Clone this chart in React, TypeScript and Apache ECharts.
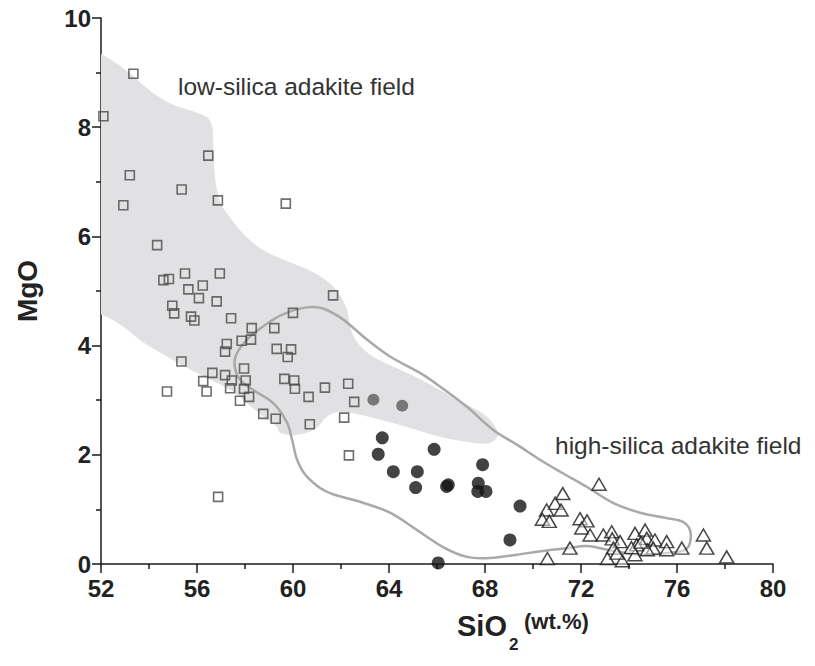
import React, { useEffect, useRef } from 'react';
import * as echarts from 'echarts';

// SiO2 (wt.%) vs MgO (wt.%)
const squares: number[][] = [
  [52.1, 8.2], [53.35, 8.98], [53.2, 7.12], [52.93, 6.57], [56.47, 7.48], [55.36, 6.86], [56.87, 6.66], [59.7, 6.6],
  [54.34, 5.84], [54.6, 5.2], [54.83, 5.22], [55.5, 5.32], [56.95, 5.32], [55.64, 5.03], [56.24, 5.1], [56.08, 4.87],
  [56.82, 4.81], [54.97, 4.73], [55.05, 4.59], [55.75, 4.53], [55.89, 4.46], [57.42, 4.5], [61.67, 4.92], [60.0, 4.6],
  [58.28, 4.32], [59.22, 4.32], [57.86, 4.09], [58.25, 4.11], [57.24, 4.03], [57.17, 3.89], [59.32, 3.94], [59.92, 3.93],
  [59.78, 3.79], [55.35, 3.71], [54.75, 3.16], [56.4, 3.16], [56.64, 3.5], [56.26, 3.35], [57.17, 3.46], [57.45, 3.36],
  [57.38, 3.22], [57.96, 3.58], [58.03, 3.36], [57.96, 3.21], [57.79, 2.99], [58.17, 3.06], [58.76, 2.75], [59.28, 2.66],
  [59.64, 3.39], [60.05, 3.36], [60.08, 3.21], [60.65, 3.06], [61.33, 3.23], [62.3, 3.3], [62.55, 2.97], [62.13, 2.68],
  [60.7, 2.56], [62.33, 1.99], [56.88, 1.23]
];

const grayCircles: number[][] = [[63.35, 3.01], [64.55, 2.9]];

const blackCircles: number[][] = [
  [63.72, 2.31], [63.55, 2.01], [65.88, 2.1], [64.18, 1.69], [65.18, 1.69], [67.9, 1.82], [65.11, 1.4], [66.4, 1.42],
  [66.47, 1.45], [67.72, 1.48], [67.7, 1.33], [68.04, 1.33], [69.46, 1.06], [69.04, 0.44], [66.05, 0.02]
];

const triangles: number[][] = [
  [72.75, 1.46], [71.24, 1.29], [70.92, 1.11], [70.57, 0.99], [71.17, 0.99], [70.39, 0.82], [70.68, 0.78], [71.96, 0.83],
  [72.25, 0.79], [72.03, 0.66], [72.38, 0.53], [71.54, 0.29], [70.6, 0.1], [72.93, 0.53], [73.28, 0.59], [73.3, 0.46],
  [73.63, 0.41], [73.35, 0.29], [73.1, 0.1], [73.72, 0.06], [73.5, 0.2], [74.25, 0.56], [74.67, 0.62], [74.32, 0.35],
  [74.25, 0.17], [74.74, 0.47], [75.08, 0.44], [75.01, 0.29], [74.76, 0.26], [74.1, 0.3], [74.5, 0.4], [75.57, 0.41],
  [75.57, 0.26], [76.2, 0.29], [77.1, 0.53], [77.24, 0.29], [78.07, 0.13]
];

// field outlines (SiO2, MgO)
const lowSilicaField: number[][] = [
  [52.0, 9.34], [53.13, 9.01], [54.13, 8.64], [54.96, 8.42], [55.92, 8.28], [56.42, 8.18], [56.63, 8.02], [56.67, 7.78],
  [56.71, 7.28], [56.83, 6.86], [57.0, 6.59], [57.29, 6.4], [57.88, 6.07], [58.71, 5.76], [59.79, 5.54], [60.63, 5.39],
  [61.33, 5.21], [61.88, 4.97], [62.25, 4.66], [62.38, 4.35], [62.67, 4.06], [63.33, 3.8], [64.46, 3.56], [65.58, 3.32],
  [66.83, 3.01], [68.08, 2.7], [68.54, 2.37], [68.21, 2.22], [67.5, 2.22], [66.13, 2.33], [64.75, 2.51], [63.33, 2.68],
  [61.96, 2.79], [61.42, 2.7], [61.0, 2.5], [60.29, 2.37], [59.46, 2.4], [59.33, 2.51], [58.75, 2.7], [58.08, 2.95],
  [57.38, 3.19], [56.54, 3.38], [55.71, 3.56], [54.75, 3.8], [53.75, 4.06], [52.92, 4.35], [52.0, 4.57],
  [51.6, 4.57], [51.6, 6.5], [51.6, 9.34]
];

const highSilicaField: number[][] = [
  [57.58, 3.6], [57.63, 3.83], [58.08, 4.11], [58.75, 4.35], [59.58, 4.57], [60.58, 4.7], [61.25, 4.68], [62.08, 4.48],
  [63.08, 4.11], [64.04, 3.8], [65.29, 3.5], [66.13, 3.25], [67.25, 2.88], [68.33, 2.46], [69.46, 2.15], [70.29, 1.91],
  [71.13, 1.69], [72.25, 1.41], [73.33, 1.12], [74.46, 0.94], [75.58, 0.84], [76.25, 0.77], [76.54, 0.62], [76.54, 0.39],
  [76.33, 0.26], [75.58, 0.2], [74.46, 0.17], [73.33, 0.24], [72.25, 0.33], [71.42, 0.29], [70.42, 0.24], [69.33, 0.17],
  [68.21, 0.11], [67.25, 0.13], [66.25, 0.31], [65.17, 0.62], [64.04, 0.94], [62.79, 1.14], [61.42, 1.32], [60.58, 1.6],
  [60.17, 1.91], [59.96, 2.28], [59.75, 2.59], [59.17, 2.95], [58.33, 3.19], [57.79, 3.38]
];

const fieldLabels = ['low-silica adakite field', 'high-silica adakite field'];
const xRange = [52, 80];
const yRange = [0, 10];

const FONT = '"Liberation Sans", Arial, Helvetica, sans-serif';

export default function App() {
  const ref = useRef<HTMLDivElement>(null);
  useEffect(() => {
    if (!ref.current) return;
    const chart = echarts.init(ref.current, undefined, { renderer: 'svg' });
    const axisCommon = {
      axisLine: { show: true, lineStyle: { color: '#1a1a1a', width: 1.5 } },
      axisTick: { show: true, length: 9, lineStyle: { color: '#1a1a1a', width: 1.5 } },
      minorTick: { show: true, splitNumber: 2, length: 5, lineStyle: { color: '#1a1a1a', width: 1.5 } },
      splitLine: { show: false },
      axisLabel: { color: '#222', fontWeight: 'bold', fontSize: 24, fontFamily: FONT }
    };
    const fieldItem = (pts: number[][], fill: boolean) => (params: any, api: any) => {
      if (params.dataIndex !== 0) return null;
      const points = pts.map((p) => api.coord(p));
      return {
        type: 'polygon',
        shape: { points, smooth: 0.35 },
        style: fill
          ? { fill: '#e1e1e3', stroke: 'none' }
          : { fill: 'none', stroke: '#a9a9a9', lineWidth: 2.5 }
      };
    };
    chart.setOption({
      animation: false,
      backgroundColor: '#ffffff',
      grid: { left: 101, top: 18, right: 42, bottom: 102, containLabel: false },
      xAxis: {
        type: 'value', min: xRange[0], max: xRange[1], interval: 4,
        ...axisCommon,
        axisLabel: { ...axisCommon.axisLabel, margin: 12 }
      },
      yAxis: {
        type: 'value', min: yRange[0], max: yRange[1], interval: 2,
        ...axisCommon,
        axisLabel: { ...axisCommon.axisLabel, margin: 10 },
        name: 'MgO', nameLocation: 'middle', nameRotate: 90, nameGap: 60,
        nameTextStyle: { fontSize: 28, fontWeight: 'bold', color: '#222', fontFamily: FONT }
      },
      series: [
        {
          type: 'custom', name: 'low-silica field', silent: true, z: 1, clip: true,
          data: [lowSilicaField[0]], renderItem: fieldItem(lowSilicaField, true)
        },
        {
          type: 'custom', name: 'high-silica field', silent: true, z: 2, clip: true,
          data: [highSilicaField[0]], renderItem: fieldItem(highSilicaField, false)
        },
        {
          type: 'scatter', name: 'squares', z: 3, symbol: 'rect', symbolSize: 9, data: squares,
          itemStyle: { color: 'rgba(0,0,0,0)', borderColor: '#4a4a4a', borderWidth: 1.6 }
        },
        {
          type: 'scatter', name: 'triangles', z: 3, symbol: 'triangle', symbolSize: [14, 12], data: triangles,
          itemStyle: { color: 'rgba(255,255,255,0.6)', borderColor: '#1a1a1a', borderWidth: 1.5 }
        },
        {
          type: 'scatter', name: 'black', z: 4, symbol: 'circle', symbolSize: 13, data: blackCircles,
          itemStyle: { color: '#141414' }
        },
        {
          type: 'scatter', name: 'gray', z: 4, symbol: 'circle', symbolSize: 12, data: grayCircles,
          itemStyle: { color: '#5e5e5e' }
        }
      ],
      graphic: [
        { type: 'text', left: 178, top: 74, z: 10, style: { text: fieldLabels[0], fill: '#333', fontSize: 24.5, fontFamily: FONT } },
        { type: 'text', left: 555, top: 433, z: 10, style: { text: fieldLabels[1], fill: '#333', fontSize: 24.5, fontFamily: FONT } },
        { type: 'text', left: 457, top: 611, z: 10, style: { text: 'SiO', fill: '#222', fontSize: 29, fontWeight: 'bold', fontFamily: FONT } },
        { type: 'text', left: 509, top: 636, z: 10, style: { text: '2', fill: '#222', fontSize: 17, fontWeight: 'bold', fontFamily: FONT } },
        { type: 'text', left: 524, top: 610, z: 10, style: { text: '(wt.%)', fill: '#222', fontSize: 22, fontWeight: 'bold', fontFamily: FONT } }
      ]
    });
    return () => chart.dispose();
  }, []);
  return <div ref={ref} style={{ position: 'fixed', left: 0, top: 0, width: 815, height: 666 }} />;
}
